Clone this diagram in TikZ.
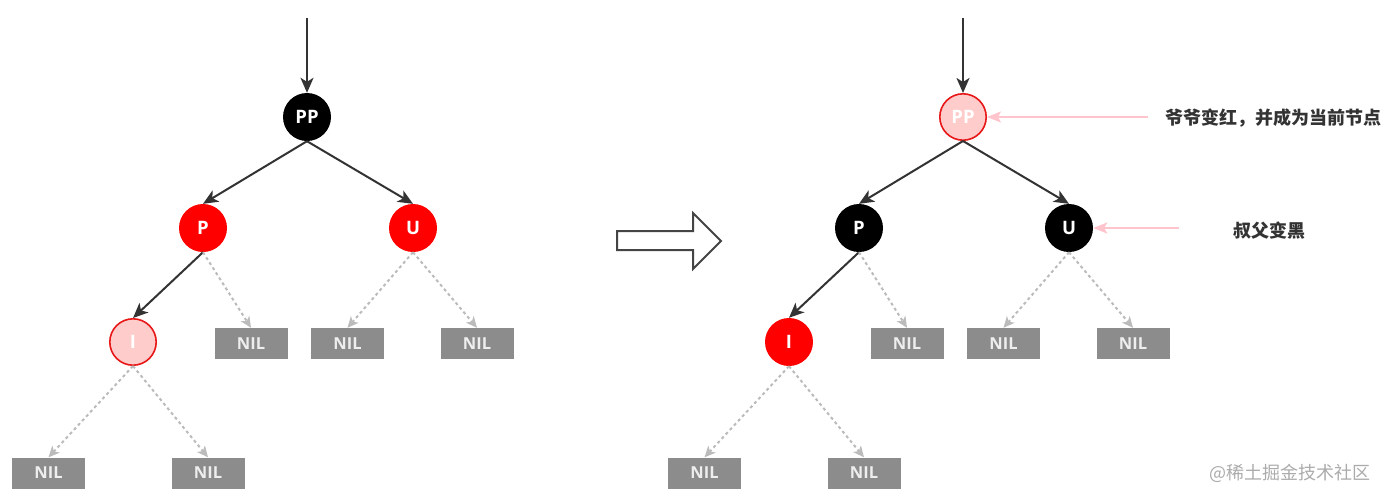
\documentclass[tikz,border=0pt]{standalone}
\usepackage{fontspec}
\setmainfont{Open Sans}
\newfontfamily\cjkfont{Noto Sans CJK SC}
\usetikzlibrary{arrows.meta}
\definecolor{edgec}{HTML}{333333}
\definecolor{dashc}{HTML}{BBBBBB}
\definecolor{nilc}{HTML}{8C8C8C}
\definecolor{niltext}{HTML}{EEEEEE}
\definecolor{palered}{HTML}{FFCCCC}
\definecolor{ringred}{HTML}{E81818}
\definecolor{noter}{HTML}{FFC4CC}
\definecolor{notetext}{HTML}{333333}
\definecolor{wmc}{HTML}{ABABAB}
\definecolor{bigc}{HTML}{444444}
\begin{document}
\begin{tikzpicture}[x=1pt,y=-1pt,
  tn/.style={circle, minimum size=48pt, inner sep=0pt, text=white, font=\fontsize{18.5}{18.5}\selectfont\bfseries},
  rn/.style={tn, fill=red},
  bn/.style={tn, fill=black},
  pn/.style={tn, fill=palered, draw=ringred, line width=1.6pt, minimum size=46.4pt},
  nil/.style={rectangle, fill=nilc, minimum width=73pt, minimum height=31pt, inner sep=0pt, text=niltext, font=\fontsize{16.5}{16.5}\selectfont\bfseries},
  edge/.style={draw=edgec, line width=2pt, -{Stealth[length=15pt,width=13pt,inset=4pt]}},
  dedge/.style={draw=dashc, line width=2pt, dash pattern=on 3pt off 3pt, -{Stealth[length=11pt,width=10pt,inset=3pt]}},
  note/.style={draw=noter, line width=2pt, -{Stealth[length=14pt,width=11pt,inset=3pt]}},
  notetxt/.style={anchor=west, inner sep=0pt, text=notetext, font=\fontsize{18}{18}\selectfont\cjkfont\bfseries},
  bigarrow/.style={draw=bigc, line width=2pt, fill=white, line join=miter}
]
\useasboundingbox (0,0) rectangle (1386,501);

% ---------- left tree ----------
\node[bn] (pp1) at (307,117) {PP};
\node[rn] (p1) at (203,228) {P};
\node[rn] (u1) at (413,228) {U};
\node[pn] (i1) at (133,342) {I};
\node[nil] (n1a) at (251,343.5) {NIL};
\node[nil] (n1b) at (347.5,343.5) {NIL};
\node[nil] (n1c) at (477,343.5) {NIL};
\node[nil] (n1d) at (48.5,473) {NIL};
\node[nil] (n1e) at (208,473) {NIL};
\coordinate (t1) at (307,18);
\draw[edge] (t1) -- (pp1.north);
\draw[edge] (pp1.south) -- (p1.north);
\draw[edge] (pp1.south) -- (u1.north);
\draw[edge] (p1.south) -- (i1.north);
\draw[dedge] (p1.south) -- (n1a.north);
\draw[dedge] (u1.south) -- (n1b.north);
\draw[dedge] (u1.south) -- (n1c.north);
\draw[dedge] (i1.south) -- (n1d.north);
\draw[dedge] (i1.south) -- (n1e.north);

% ---------- big arrow ----------
\draw[bigarrow] (617,231) -- (693,231) -- (693,213) -- (721,241) -- (693,269) -- (693,250) -- (617,250) -- cycle;

% ---------- right tree ----------
\node[pn] (pp2) at (963,117) {PP};
\node[bn] (p2) at (859,228) {P};
\node[bn] (u2) at (1069,228) {U};
\node[rn] (i2) at (789,342) {I};
\node[nil] (n2a) at (907,343.5) {NIL};
\node[nil] (n2b) at (1003.5,343.5) {NIL};
\node[nil] (n2c) at (1133,343.5) {NIL};
\node[nil] (n2d) at (704.5,473) {NIL};
\node[nil] (n2e) at (864,473) {NIL};
\coordinate (t2) at (963,18);
\draw[edge] (t2) -- (pp2.north);
\draw[edge] (pp2.south) -- (p2.north);
\draw[edge] (pp2.south) -- (u2.north);
\draw[edge] (p2.south) -- (i2.north);
\draw[dedge] (p2.south) -- (n2a.north);
\draw[dedge] (u2.south) -- (n2b.north);
\draw[dedge] (u2.south) -- (n2c.north);
\draw[dedge] (i2.south) -- (n2d.north);
\draw[dedge] (i2.south) -- (n2e.north);

% ---------- annotations ----------
\node[notetxt] (note1) at (1165,118) {爷爷变红，并成为当前节点};
\coordinate (s1) at (1148,117);
\draw[note] (s1) -- (pp2.east);
\node[notetxt] (note2) at (1233,231) {叔父变黑};
\coordinate (s2) at (1179,228);
\draw[note] (s2) -- (u2.east);

\node[anchor=west, inner sep=0pt, text=wmc, font=\fontsize{18}{18}\selectfont\cjkfont] (wm) at (1209,473) {@稀土掘金技术社区};
\end{tikzpicture}
\end{document}
